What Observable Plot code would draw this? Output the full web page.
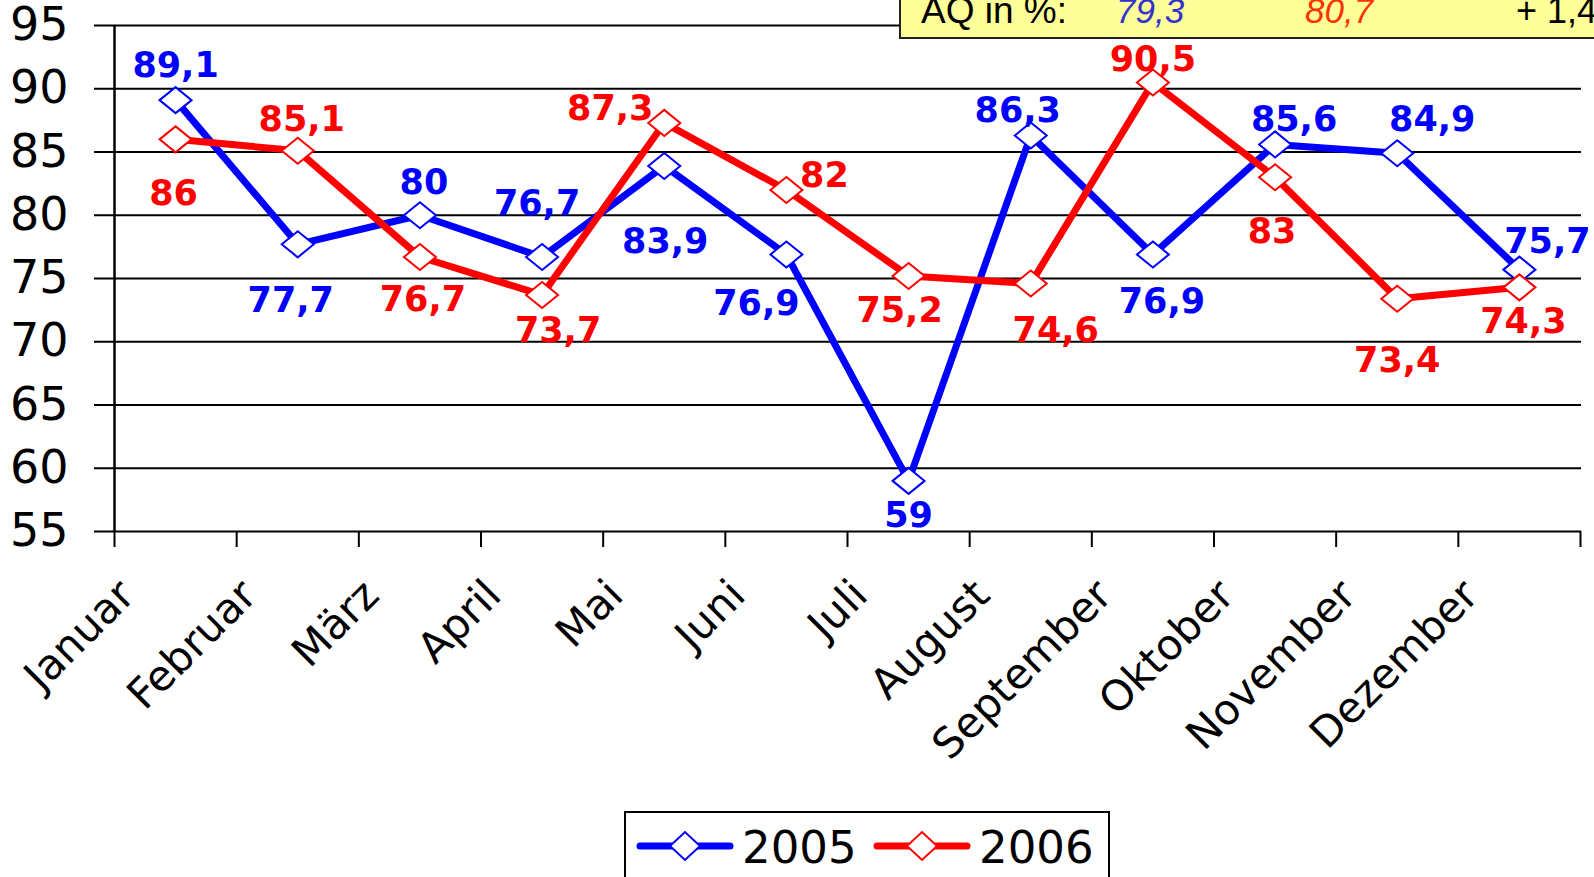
<!DOCTYPE html>
<html>
<head>
<meta charset="utf-8">
<script src="https://cdn.jsdelivr.net/npm/d3@7"></script>
<script src="https://cdn.jsdelivr.net/npm/@observablehq/plot@0.6"></script>
<style>
  body { margin: 0; background: #fff; }
  #wrap { position: relative; width: 1594px; height: 877px; overflow: hidden; background: #fff; }
  #overlay { position: absolute; left: 0; top: 0; pointer-events: none; }
</style>
</head>
<body>
<div id="wrap"></div>
<script>
// ---- data ----
const months = ["Januar", "Februar", "März", "April", "Mai", "Juni", "Juli", "August", "September", "Oktober", "November", "Dezember"];
const years = ["2005", "2006"];
const values2005 = [89.1, 77.7, 80, 76.7, 83.9, 76.9, 59, 86.3, 76.9, 85.6, 84.9, 75.7];
const values2006 = [86, 85.1, 76.7, 73.7, 87.3, 82, 75.2, 74.6, 90.5, 83, 73.4, 74.3];
const yTicks = [55, 60, 65, 70, 75, 80, 85, 90, 95];
const aqLabel = "AQ in %:";
const aq2005 = 79.3;
const aq2006 = 80.7;

// ---- styles (label placement offsets in px) ----
const colors = ["#0000ff", "#ff0000"];
const offsets2005 = [[0,-34],[-7,56],[4,-32],[-5,-53],[1,76],[-30,49],[0,35],[-13,-25],[9,47],[19,-25],[35,-33],[28,-28]];
const offsets2006 = [[-2,54],[4,-31],[3,43],[16,36],[-54,-14],[38,-14],[-9,35],[25,47],[0,-23],[-3,54],[0,62],[4,34]];

const fmt = v => String(v).replace(".", ",");

const series = [
  {year: years[0], values: values2005, color: colors[0], offsets: offsets2005},
  {year: years[1], values: values2006, color: colors[1], offsets: offsets2006}
];

const diamond = {
  draw(context) {
    const w = 16, h = 13;
    context.moveTo(-w, 0);
    context.lineTo(0, -h);
    context.lineTo(w, 0);
    context.lineTo(0, h);
    context.closePath();
  }
};

const marks = [
  Plot.ruleY(yTicks, {stroke: "#000", strokeWidth: 2}),
  Plot.ruleX([0], {y1: 55, y2: 95, stroke: "#000", strokeWidth: 2.5}),
  Plot.axisX({ticks: d3.range(13), tickSize: 16, tickFormat: () => "", stroke: "#000", strokeWidth: 2, label: null}),
  Plot.axisY({ticks: yTicks, tickSize: 0, tickPadding: 26, fontSize: 46, fontFamily: "DejaVu Sans", fill: "#000", label: null}),
  Plot.text(months, {x: (d, i) => i + 0.5, frameAnchor: "bottom", text: d => d, rotate: -45,
    textAnchor: "end", lineAnchor: "top", dx: -60, dy: 45, fontSize: 42, fontFamily: "DejaVu Sans", fill: "#000"})
];

for (const s of series) {
  const rows = s.values.map((v, i) => ({i, month: months[i], value: v}));
  marks.push(Plot.line(rows, {x: d => d.i + 0.5, y: "value", stroke: s.color, strokeWidth: 7, strokeLinejoin: "miter"}));
  marks.push(Plot.dot(rows, {x: d => d.i + 0.5, y: "value", symbol: diamond, r: 10, fill: "#fff", stroke: s.color, strokeWidth: 2}));
}
for (const s of series) {
  s.values.forEach((v, i) => {
    marks.push(Plot.text([{i, value: v}], {
      x: d => d.i + 0.5, y: "value", text: d => fmt(d.value),
      dx: s.offsets[i][0], dy: s.offsets[i][1],
      fill: s.color, fontSize: 35, fontWeight: "bold", fontFamily: "DejaVu Sans",
      textAnchor: "middle", lineAnchor: "middle"
    }));
  });
}

const chart = Plot.plot({
  width: 1594,
  height: 877,
  marginLeft: 94,
  marginRight: 13,
  marginTop: 25,
  marginBottom: 346,
  x: {type: "linear", domain: [0, 12], range: [114, 1580]},
  y: {domain: [55, 95]},
  style: {background: "transparent", overflow: "visible"},
  marks
});

const wrap = document.getElementById("wrap");
wrap.appendChild(chart);

// ---- overlay: AQ box and legend ----
const ov = d3.select(wrap).append("svg").attr("id", "overlay").attr("width", 1594).attr("height", 877);

const box = ov.append("g");
box.append("rect").attr("x", 900).attr("y", -10).attr("width", 760).attr("height", 48)
  .attr("fill", "#ffff99").attr("stroke", "#222").attr("stroke-width", 2);
const aqFont = "'Liberation Sans', Arial, sans-serif";
box.append("text").attr("x", 921).attr("y", 23).attr("font-family", aqFont).attr("font-size", 37).attr("fill", "#000").text(aqLabel);
box.append("text").attr("x", 1116).attr("y", 23).attr("font-family", aqFont).attr("font-size", 35).attr("font-style", "italic").attr("fill", "#3333cc").text(fmt(aq2005));
box.append("text").attr("x", 1305).attr("y", 23).attr("font-family", aqFont).attr("font-size", 35).attr("font-style", "italic").attr("fill", "#ff3300").text(fmt(aq2006));
box.append("text").attr("x", 1516).attr("y", 23).attr("font-family", aqFont).attr("font-size", 36).attr("fill", "#000").text("+ " + fmt(Math.round((aq2006 - aq2005) * 10) / 10));

const leg = ov.append("g");
leg.append("rect").attr("x", 625).attr("y", 812).attr("width", 484).attr("height", 100)
  .attr("fill", "#fff").attr("stroke", "#000").attr("stroke-width", 2);
const legX = [640, 877];
series.forEach((s, k) => {
  const x0 = legX[k];
  leg.append("line").attr("x1", x0).attr("x2", x0 + 90).attr("y1", 846).attr("y2", 846)
    .attr("stroke", s.color).attr("stroke-width", 7).attr("stroke-linecap", "round");
  const cx = x0 + 45, cy = 846;
  leg.append("path").attr("d", `M${cx-15},${cy}L${cx},${cy-14}L${cx+15},${cy}L${cx},${cy+14}Z`)
    .attr("fill", "#fff").attr("stroke", s.color).attr("stroke-width", 2);
  leg.append("text").attr("x", x0 + 102).attr("y", 863).attr("font-family", "DejaVu Sans").attr("font-size", 45)
    .attr("fill", "#000").text(s.year);
});
</script>
</body>
</html>
